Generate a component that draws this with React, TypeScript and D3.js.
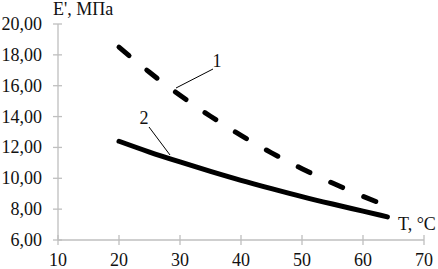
import React from "react";
import * as d3 from "d3";

const xTicks = [10, 20, 30, 40, 50, 60, 70];
const yTicks = [6, 8, 10, 12, 14, 16, 18, 20];
const temps = [20, 25, 30, 35, 40, 45, 50, 55, 60, 64];
const series1 = [18.5, 16.87, 15.38, 14.02, 12.78, 11.65, 10.62, 9.69, 8.83, 8.2];
const series2 = [12.4, 11.7, 11.06, 10.45, 9.87, 9.33, 8.81, 8.33, 7.87, 7.5];
const yTitle = "E', МПа";
const xTitle = "T, °C";

const W = 438, H = 269;
const font = "Liberation Serif, DejaVu Serif, serif";

export default function App() {
  const x = d3.scaleLinear().domain([10, 70]).range([58, 424]);
  const y = d3.scaleLinear().domain([6, 20]).range([240, 24]);
  const line = d3.line<number>().x((_, i) => x(temps[i])).y((d) => y(d)).curve(d3.curveMonotoneX);
  const axisColor = "#bfbfbf";
  const ts = { fontFamily: font, fontSize: "18px" } as React.CSSProperties;
  return (
    <svg width={W} height={H} style={{ position: "absolute", left: 0, top: 0, background: "#fff" }}>
      <line x1={x(10)} x2={x(10)} y1={y(20)} y2={y(6)} stroke={axisColor} strokeWidth={1.3} />
      <line x1={x(10)} x2={x(70)} y1={y(6)} y2={y(6)} stroke={axisColor} strokeWidth={1.3} />
      {yTicks.map((t) => (
        <g key={"y" + t}>
          <line x1={x(10) - 5} x2={x(10) + 4} y1={y(t)} y2={y(t)} stroke={axisColor} strokeWidth={1.3} />
          <text x={42} y={y(t) + 6} textAnchor="end" style={ts} fill="#111">
            {t.toFixed(2).replace(".", ",")}
          </text>
        </g>
      ))}
      {xTicks.map((t) => (
        <g key={"x" + t}>
          <line x1={x(t)} x2={x(t)} y1={y(6) - 5} y2={y(6) + 5} stroke={axisColor} strokeWidth={1.3} />
          <text x={x(t)} y={266} textAnchor="middle" style={ts} fill="#111">
            {t}
          </text>
        </g>
      ))}
      <path d={line(series1) || ""} fill="none" stroke="#000" strokeWidth={5} strokeDasharray="13 23" strokeLinecap="round" />
      <path d={line(series2) || ""} fill="none" stroke="#000" strokeWidth={5} strokeLinecap="round" />
      <line x1={213} y1={69} x2={176} y2={88} stroke="#000" strokeWidth={1} />
      <text x={217} y={67} textAnchor="middle" style={ts} fill="#111">1</text>
      <line x1={149} y1={127} x2={170} y2={155} stroke="#000" strokeWidth={1} />
      <text x={144} y={124} textAnchor="middle" style={ts} fill="#111">2</text>
      <text x={53} y={15} style={ts} fill="#111">{yTitle}</text>
      <text x={398} y={230} style={ts} fill="#111">{xTitle}</text>
    </svg>
  );
}
